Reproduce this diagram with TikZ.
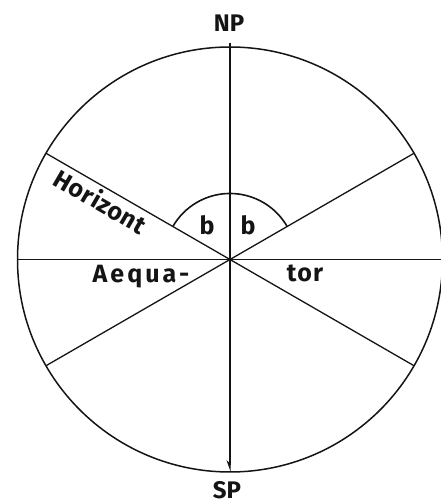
\documentclass[tikz,border=0pt]{standalone}
\usepackage{fontspec}
\setmainfont{Fira Sans}
\usetikzlibrary{arrows.meta,calc}
\definecolor{ink}{RGB}{20,20,20}
\tikzset{
    rim/.style={line width=1.5pt,ink},
    planeline/.style={line width=1.3pt,ink},
    polaxis/.style={line width=1.3pt,ink,-{Stealth[harpoon,swap,length=10pt,width=7pt]}},
    anglearc/.style={line width=1.6pt,ink},
    pollabel/.style={font=\fontsize{24}{24}\selectfont\bfseries,text=ink,inner sep=0pt,anchor=base},
    planelabel/.style={font=\fontsize{25}{25}\selectfont\bfseries\addfontfeatures{LetterSpace=#1},text=ink,inner sep=0pt},
    anglelabel/.style={font=\fontsize{25}{25}\selectfont\bfseries,text=ink,inner sep=0pt,anchor=base}
}

\begin{document}
\begin{tikzpicture}[x=1pt,y=1pt,>=Stealth]
    \useasboundingbox (0,0) rectangle (441,503);
    % Sphere
    \coordinate (O) at (230,243.5);
    \def\R{212.5}
    \draw[rim] (O) circle[radius=\R];
    % Aequator
    \coordinate (aqW) at ($(O)+(180:\R)$);
    \coordinate (aqE) at ($(O)+(0:\R)$);
    \draw[planeline] (aqW) -- (aqE);
    % Horizont
    \coordinate (hzW) at ($(O)+(150:\R)$);
    \coordinate (hzE) at ($(O)+(-30:\R)$);
    \draw[planeline] (hzW) -- (hzE);
    % Mirrored plane
    \coordinate (mrW) at ($(O)+(210:\R)$);
    \coordinate (mrE) at ($(O)+(30:\R)$);
    \draw[planeline] (mrW) -- (mrE);
    % Pole axis
    \coordinate (npEnd) at ($(O)+(90:{\R+4})$);
    \coordinate (spEnd) at ($(O)+(270:\R)$);
    \draw[polaxis] (npEnd) -- (spEnd);
    % Angle arc
    \draw[anglearc] ($(O)+(30:66)$) arc[start angle=30,end angle=150,radius=66];
    % Labels
    \node[pollabel] (np) at (229,471) {NP};
    \node[pollabel] (sp) at (227,5) {SP};
    \node[planelabel=2,rotate=-30] (hz) at (101,302) {Horizont};
    \node[planelabel=12,anchor=base] (aqa) at (141,220) {Aequa-};
    \node[planelabel=5,anchor=base] (aqb) at (305,221) {tor};
    \node[anglelabel] (bw) at (207,268) {b};
    \node[anglelabel] (be) at (248,268) {b};
\end{tikzpicture}
\end{document}
